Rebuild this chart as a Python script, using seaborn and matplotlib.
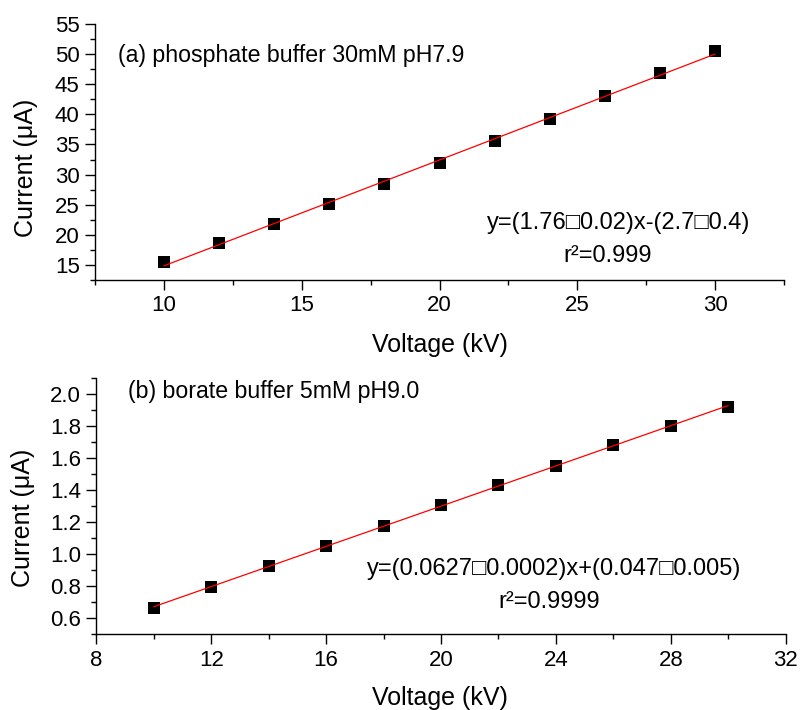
import numpy as np
import pandas as pd
import seaborn as sns
import matplotlib
matplotlib.use("Agg")
import matplotlib.pyplot as plt
from matplotlib.ticker import MultipleLocator, FormatStrFormatter

# ---- data ----
voltage = [10, 12, 14, 16, 18, 20, 22, 24, 26, 28, 30]
current_phosphate = [15.5, 18.6, 21.85, 25.2, 28.5, 31.95, 35.5, 39.2, 43.0, 46.8, 50.6]
current_borate = [0.666, 0.795, 0.925, 1.051, 1.178, 1.307, 1.432, 1.551, 1.682, 1.805, 1.919]

title_a = "(a) phosphate buffer 30mM pH7.9"
title_b = "(b) borate buffer 5mM pH9.0"
eq_a = "y=(1.76\u25a10.02)x-(2.7\u25a10.4)"
r2_a = "r\u00b2=0.999"
eq_b = "y=(0.0627\u25a10.0002)x+(0.047\u25a10.005)"
r2_b = "r\u00b2=0.9999"
xlabel = "Voltage (kV)"
ylabel = "Current (\u03bcA)"

sns.set_style("ticks")
plt.rcParams["font.family"] = ["Liberation Sans", "DejaVu Sans"]
plt.rcParams.update({
    "axes.linewidth": 1.0,
    "text.color": "black",
    "axes.labelcolor": "black",
    "axes.edgecolor": "black",
    "xtick.color": "black",
    "ytick.color": "black",
})

fig = plt.figure(figsize=(8.01, 7.10), dpi=100)
W, H = 801, 710

def axpos(l, t, r, b):
    return [l / W, 1 - b / H, (r - l) / W, (b - t) / H]

ax1 = fig.add_axes(axpos(95, 24, 784, 280))
ax2 = fig.add_axes(axpos(96.3, 378.3, 785.7, 634.3))

df_a = pd.DataFrame({"V": voltage, "I": current_phosphate})
df_b = pd.DataFrame({"V": voltage, "I": current_borate})

for ax, df in ((ax1, df_a), (ax2, df_b)):
    sns.regplot(data=df, x="V", y="I", ax=ax, ci=None, marker="s",
                scatter_kws=dict(s=64, color="black", linewidths=0, alpha=1),
                line_kws=dict(color="red", lw=0.9))
    sns.despine(ax=ax)
    ax.tick_params(axis="both", which="major", direction="out", length=7,
                   width=1.0, labelsize=16, pad=4, color="black", labelcolor="black")
    ax.tick_params(axis="both", which="minor", direction="out", length=3.5,
                   width=1.0, color="black")
    ax.set_xlabel(xlabel, fontsize=18)
    ax.set_ylabel(ylabel, fontsize=18)

# top panel axes
ax1.set_xlim(7.5, 32.5)
ax1.set_ylim(12.5, 55)
ax1.xaxis.set_major_locator(MultipleLocator(5))
ax1.xaxis.set_minor_locator(MultipleLocator(2.5))
ax1.yaxis.set_major_locator(MultipleLocator(5))
ax1.yaxis.set_minor_locator(MultipleLocator(2.5))
ax1.xaxis.set_label_coords(0.5007, -0.254)
ax1.xaxis.label.set_verticalalignment("center")
ax1.yaxis.set_label_coords(-0.100, 0.4375)
ax1.yaxis.label.set_verticalalignment("center")

ax1.text(23 / 689, (280 - 61.7) / 256, title_a, transform=ax1.transAxes,
         fontsize=16.7, ha="left", va="baseline")
ax1.text((619 - 95) / 689, (280 - 229.5) / 256, eq_a, transform=ax1.transAxes,
         fontsize=17, ha="center", va="baseline")
ax1.text((608 - 95) / 689, (280 - 261.7) / 256, r2_a, transform=ax1.transAxes,
         fontsize=17, ha="center", va="baseline")

# bottom panel axes
ax2.set_xlim(8, 32)
ax2.set_ylim(0.5, 2.1)
ax2.xaxis.set_major_locator(MultipleLocator(4))
ax2.xaxis.set_minor_locator(MultipleLocator(2))
ax2.yaxis.set_major_locator(MultipleLocator(0.2))
ax2.yaxis.set_minor_locator(MultipleLocator(0.1))
ax2.yaxis.set_major_formatter(FormatStrFormatter("%.1f"))
ax2.xaxis.set_major_formatter(FormatStrFormatter("%d"))
ax2.xaxis.set_label_coords((440 - 96.3) / 689.4, (634.3 - 698) / 256)
ax2.xaxis.label.set_verticalalignment("center")
ax2.yaxis.set_label_coords(-0.107, 0.454)
ax2.yaxis.label.set_verticalalignment("center")

ax2.text((127.7 - 96.3) / 689.4, (634.3 - 398.3) / 256, title_b, transform=ax2.transAxes,
         fontsize=16.7, ha="left", va="baseline")
ax2.text((554.5 - 96.3) / 689.4, (634.3 - 575) / 256, eq_b, transform=ax2.transAxes,
         fontsize=17, ha="center", va="baseline")
ax2.text((549.5 - 96.3) / 689.4, (634.3 - 608.3) / 256, r2_b, transform=ax2.transAxes,
         fontsize=17, ha="center", va="baseline")

fig.savefig("out.png", dpi=100)
